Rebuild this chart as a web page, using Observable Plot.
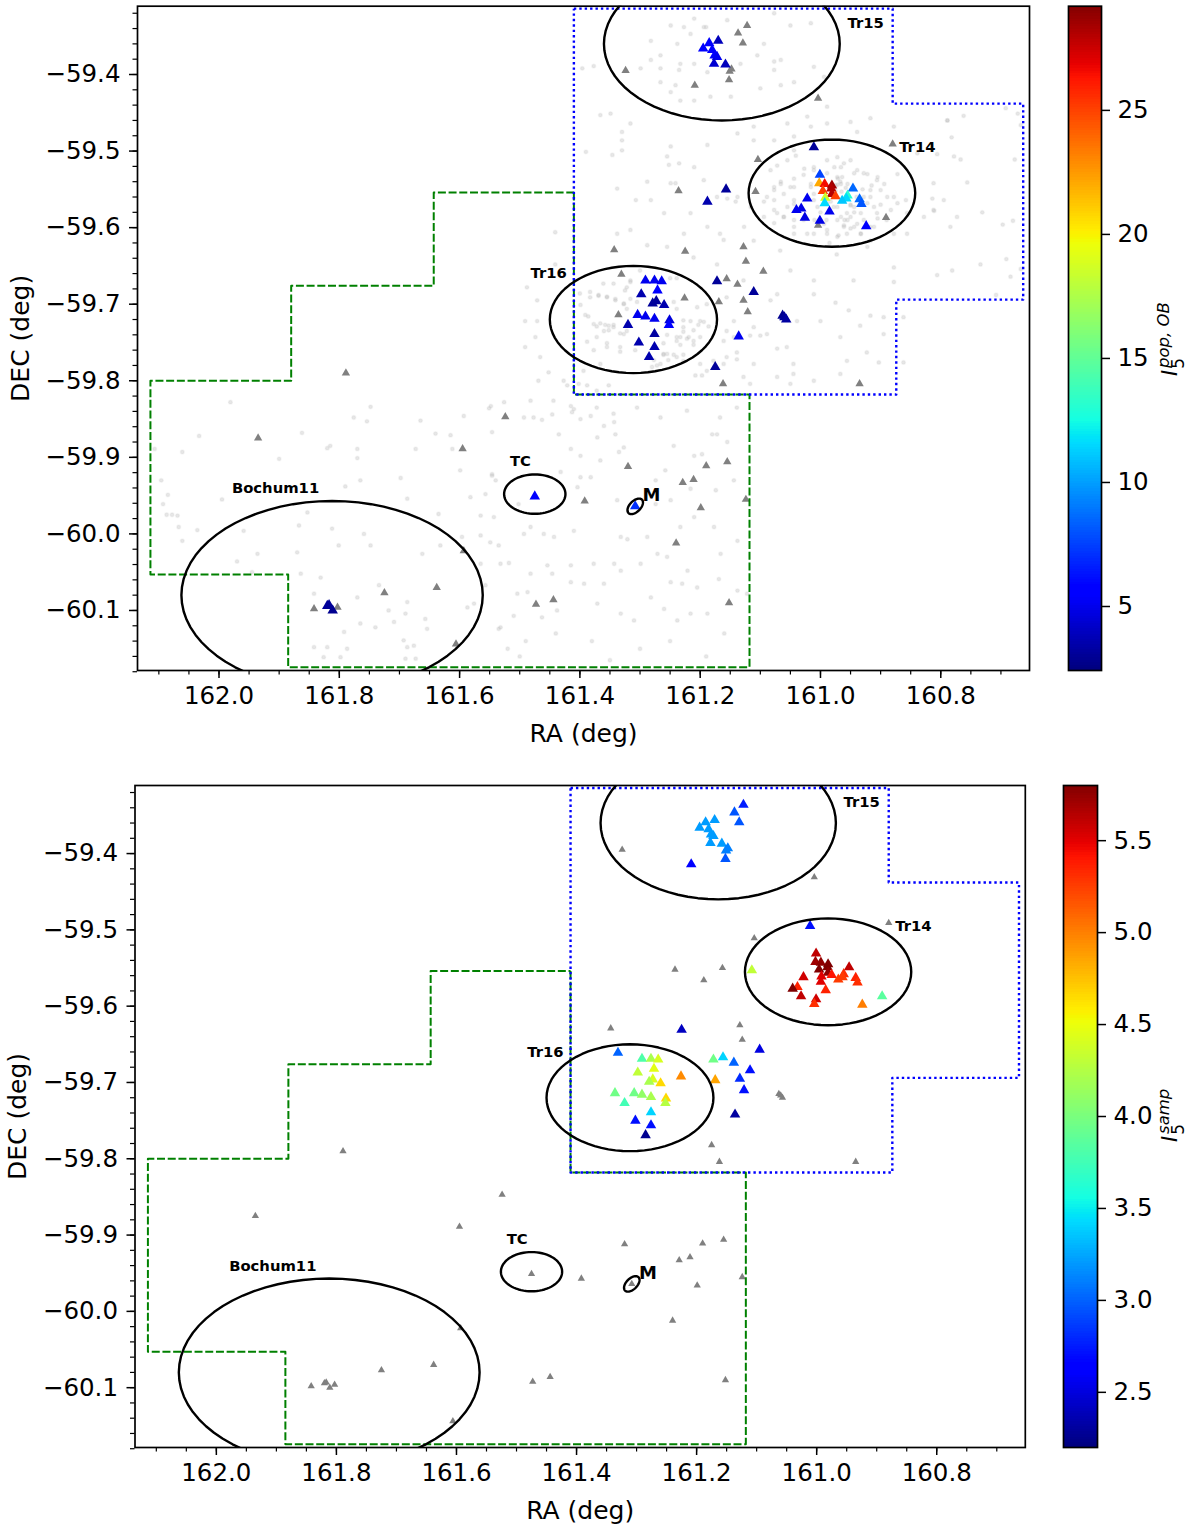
<!DOCTYPE html>
<html><head><meta charset="utf-8">
<script src="https://cdn.jsdelivr.net/npm/d3@7"></script>
<script src="https://cdn.jsdelivr.net/npm/@observablehq/plot@0.6"></script>
<style>html,body{margin:0;padding:0;background:#fff}#page{position:relative;width:1200px;height:1531px;overflow:hidden}#page svg{position:absolute;background:none}</style>
</head><body><div id="page"></div>
<script>
// ---- star catalogue: RA, DEC, I5 pop OB, I5 samp (null = shown grey)
const starRa=[161.122,161.137,161.129,161.170,161.185,161.195,161.180,161.176,161.172,161.177,161.158,161.148,161.151,161.152,161.209,161.324,161.004,
161.011,161.104,161.108,161.001,161.002,160.993,160.981,160.996,160.982,160.981,160.975,160.992,160.993,160.946,160.955,160.957,160.964,160.935,160.932,161.022,161.032,161.040,161.026,160.985,161.001,161.004,160.924,160.891,160.880,
161.157,161.188,161.236,161.343,161.225,161.128,161.124,161.095,161.331,161.291,161.276,161.264,161.172,161.156,161.138,161.271,161.298,161.111,161.273,161.279,161.260,161.226,161.169,161.128,161.121,161.336,161.304,161.291,161.276,161.251,161.252,161.320,161.276,161.302,161.276,161.285,161.136,161.175,161.162,160.935,161.063,161.060,161.057,
161.935,161.595,161.524,161.789,161.842,161.803,161.817,161.811,161.820,161.725,161.638,161.606,161.593,161.320,161.190,161.155,161.229,161.211,161.392,161.199,161.124,161.240,161.473,161.444,161.152,161.475,161.308];
const starDec=[-59.336,-59.346,-59.359,-59.356,-59.359,-59.366,-59.368,-59.375,-59.377,-59.386,-59.387,-59.393,-59.396,-59.407,-59.414,-59.395,-59.431,
-59.495,-59.511,-59.553,-59.531,-59.542,-59.543,-59.545,-59.552,-59.549,-59.556,-59.559,-59.561,-59.568,-59.549,-59.558,-59.562,-59.565,-59.563,-59.569,-59.562,-59.575,-59.577,-59.587,-59.579,-59.591,-59.597,-59.598,-59.587,-59.491,
-59.550,-59.566,-59.552,-59.629,-59.631,-59.625,-59.644,-59.657,-59.661,-59.669,-59.669,-59.670,-59.670,-59.667,-59.674,-59.682,-59.687,-59.684,-59.696,-59.699,-59.701,-59.692,-59.697,-59.695,-59.710,-59.714,-59.714,-59.716,-59.719,-59.721,-59.727,-59.727,-59.739,-59.750,-59.756,-59.769,-59.742,-59.782,-59.804,-59.804,-59.715,-59.717,-59.720,
-59.875,-59.889,-59.847,-59.790,-60.098,-60.096,-60.093,-60.100,-60.094,-60.077,-60.070,-60.144,-60.022,-59.912,-59.911,-59.906,-59.933,-59.929,-59.957,-59.966,-59.955,-60.012,-60.092,-60.086,-60.090,-59.951,-59.964];
const starPop=[null,null,null,3.8,5.5,5.5,5.5,5.3,5,4.3,3.8,null,null,null,null,null,null,
3,null,null,7.5,22,26.5,28.5,25,28,28,25,18.5,11.5,8.5,13,11.5,11,8.5,8,5,4.8,5,4.7,5,4.8,null,5.5,null,null,
3,3.5,null,null,null,null,null,null,null,5,5,5,3,null,null,5.5,3.5,3,3,3,3.5,null,null,null,null,null,5,5,5,4.5,5.5,3.5,3.2,3.5,3.5,3.5,5,3,null,null,2.8,3,3.2,
null,null,null,null,null,null,3,2.8,3,null,null,null,null,null,null,null,null,null,null,null,null,null,null,null,null,5.5,7];
const starSamp=[2.75,2.95,2.95,3.2,3.2,3.2,3.2,3.2,3.2,3.2,3.2,3.1,3.1,2.95,2.65,null,null,
2.7,null,4.3,5.6,5.7,5.75,5.8,5.8,5.8,5.75,5.4,5.5,5.5,5.6,5.3,5.25,5.25,5.35,5.3,5.55,5.35,5.8,5.6,5.35,5.55,5.3,5.0,3.85,null,
null,null,null,null,2.4,null,null,2.5,3.0,3.8,4.2,4.4,3.95,3.4,3.0,4.45,4.3,2.7,4.4,4.2,4.65,4.95,4.85,2.8,2.7,3.95,3.95,4.1,4.2,4.65,4.25,3.75,3.4,2.7,2.7,2.25,2.3,null,null,null,null,null,null,
null,null,null,null,null,null,null,null,null,null,null,null,null,null,null,null,null,null,null,null,null,null,null,null,null,null,null];

// ---- faint background sources, read region by region
const faintCentral=[[161.548,-59.833],[161.526,-59.828],[161.493,-59.848],[161.463,-59.851],[161.446,-59.844],[161.415,-59.833],[161.413,-59.841],[161.399,-59.850],[161.382,-59.846],[161.343,-59.854],[161.360,-59.859],[161.341,-59.870],[161.371,-59.874],[161.435,-59.870],[161.415,-59.889],[161.399,-59.898],[161.335,-59.893],[161.327,-59.887],[161.366,-59.904],[161.258,-59.917],[161.274,-59.930],[161.244,-59.885],[161.210,-59.898],[161.197,-59.896],[161.180,-59.870],[161.172,-59.870],[161.155,-59.880],[161.144,-59.930],[161.174,-59.943],[161.216,-59.941],[161.274,-59.961],[161.249,-59.956],[161.338,-59.956],[161.399,-59.926],[161.404,-59.939],[161.382,-59.926],[161.432,-59.919],[161.546,-59.924],[161.540,-59.930],[161.557,-59.948],[161.543,-59.978],[161.493,-60.0],[161.482,-59.991],[161.460,-60.0],[161.443,-60.004],[161.410,-59.996],[161.332,-60.004],[161.321,-60.007],[161.288,-60.004],[161.271,-60.026],[161.255,-60.030],[161.221,-60.048],[161.166,-60.026],[161.138,-60.009],[161.177,-59.991],[161.210,-59.978],[161.233,-59.991],[161.343,-60.039],[161.377,-60.039],[161.415,-60.041],[161.454,-60.041],[161.482,-60.052],[161.518,-60.038],[161.532,-60.039],[161.504,-60.078],[161.487,-60.076],[161.446,-60.052],[161.415,-60.063],[161.393,-60.065],[161.360,-60.065],[161.332,-60.048],[161.299,-60.039],[161.282,-60.083],[161.249,-60.063],[161.230,-60.065],[161.205,-60.070],[161.169,-60.059],[161.138,-60.074],[161.122,-60.078],[161.216,-60.104],[161.260,-60.098],[161.310,-60.113],[161.371,-60.091],[161.438,-60.100],[161.463,-60.109],[161.532,-60.122],[161.510,-60.107],[161.332,-60.104],[161.238,-60.113],[161.188,-60.104],[161.52,-60.15],[161.50,-60.16],[161.49,-60.14],[161.44,-60.13],[161.38,-60.14],[161.30,-60.15],[161.25,-60.14],[161.19,-60.16],[161.16,-60.13],[161.35,-60.165]];
const faintWest=[[162.033,-59.872],[162.061,-59.893],[162.096,-59.930],[162.085,-59.949],[162.069,-59.976],[162.078,-59.975],[162.087,-59.975],[162.067,-59.991],[162.036,-59.995],[162.061,-60.009],[161.995,-59.955],[162.093,-59.961],[162.107,-59.889],[161.981,-59.828],[161.862,-59.868],[161.815,-59.885],[161.820,-59.888],[161.900,-59.902],[161.770,-59.889],[161.770,-59.901],[161.748,-59.834],[161.754,-59.853],[161.776,-59.848],[161.665,-59.852],[161.640,-59.869],[161.615,-59.871],[161.593,-59.846],[161.551,-59.836],[161.546,-59.867],[161.612,-59.889],[161.673,-59.889],[161.698,-59.927],[161.765,-59.930],[161.790,-59.938],[161.687,-59.954],[161.635,-59.974],[161.565,-59.976],[161.599,-59.917],[161.582,-59.952],[161.546,-59.922],[161.502,-59.961],[161.565,-60.002],[161.549,-60.011],[161.535,-60.015],[161.596,-60.004],[161.632,-60.015],[161.662,-60.026],[161.748,-60.015],[161.801,-60.015],[161.759,-60.0],[161.812,-59.993],[161.853,-59.972],[161.936,-60.026],[161.870,-60.024],[161.970,-60.036],[161.867,-59.989],[161.959,-59.996],[161.842,-60.078],[161.770,-60.083],[161.734,-60.067],[161.687,-60.089],[161.718,-60.100],[161.690,-60.104],[161.709,-60.115],[161.765,-60.117],[161.792,-60.128],[161.740,-60.122],[161.657,-60.111],[161.654,-60.124],[161.587,-60.096],[161.576,-60.091],[161.535,-60.124],[161.565,-60.039],[161.557,-60.067],[161.831,-60.057],[161.864,-60.052],[161.945,-60.050],[161.687,-60.148],[161.676,-60.146],[161.693,-60.139],[161.673,-60.163],[161.690,-60.163],[161.842,-60.148],[161.820,-60.148],[161.787,-60.150],[161.798,-60.161],[161.826,-60.161]];
const faintNorth=[[161.396,-59.392],[161.377,-59.389],[161.366,-59.453],[161.349,-59.451],[161.330,-59.475],[161.330,-59.486],[161.316,-59.464],[161.390,-59.501],[161.346,-59.505],[161.330,-59.499],[161.249,-59.494],[161.255,-59.507],[161.252,-59.518],[161.235,-59.516],[161.241,-59.542],[161.249,-59.542],[161.288,-59.540],[161.338,-59.549],[161.307,-59.564],[161.282,-59.564],[161.260,-59.581],[161.216,-59.581],[161.188,-59.492],[161.210,-59.521],[161.194,-59.538],[161.172,-59.560],[161.155,-59.562],[161.138,-59.560],[161.141,-59.566],[161.116,-59.573],[161.089,-59.560],[161.077,-59.547],[161.338,-59.608],[161.316,-59.603],[161.288,-59.623],[161.255,-59.625],[161.227,-59.608],[161.188,-59.599],[161.161,-59.616],[161.127,-59.599],[161.094,-59.586],[161.077,-59.594],[161.044,-59.608],[160.856,-59.581],[160.828,-59.586],[160.812,-59.577],[160.878,-59.608],[160.922,-59.625],[160.856,-59.608],[160.789,-59.460],[160.878,-59.468],[160.917,-59.457],[160.950,-59.462],[160.989,-59.442],[161.022,-59.455],[161.055,-59.464],[161.111,-59.468],[161.138,-59.477],[161.077,-59.486],[161.111,-59.486],[161.016,-59.468],[161.044,-59.481],[160.989,-59.464],[160.939,-59.475],[160.839,-59.503],[160.812,-59.542],[160.778,-59.507],[160.795,-59.564],[160.773,-59.586]];
const faintTr15=[[161.282,-59.356],[161.249,-59.336],[161.227,-59.338],[161.210,-59.327],[161.194,-59.338],[161.216,-59.347],[161.238,-59.360],[161.266,-59.375],[161.282,-59.381],[161.299,-59.392],[161.266,-59.392],[161.235,-59.394],[161.241,-59.414],[161.249,-59.423],[161.266,-59.410],[161.233,-59.434],[161.210,-59.434],[161.183,-59.429],[161.149,-59.429],[161.100,-59.418],[161.077,-59.394],[161.077,-59.383],[161.044,-59.410],[161.066,-59.414],[161.094,-59.360],[161.066,-59.381],[161.133,-59.386],[161.105,-59.375],[161.155,-59.329],[161.077,-59.320],[161.050,-59.336],[161.016,-59.333],[161.011,-59.390],[160.994,-59.403],[161.188,-59.397],[161.210,-59.386],[161.233,-59.386],[161.190,-59.338]];
const faintTr14=[[161.066,-59.540],[161.044,-59.547],[161.077,-59.564],[161.055,-59.573],[161.028,-59.531],[161.016,-59.547],[161.011,-59.521],[160.989,-59.512],[160.961,-59.516],[160.944,-59.529],[160.928,-59.529],[160.906,-59.538],[160.889,-59.560],[160.872,-59.568],[160.917,-59.560],[160.922,-59.568],[160.944,-59.573],[160.956,-59.581],[160.972,-59.590],[160.961,-59.599],[160.956,-59.608],[160.989,-59.603],[161.011,-59.608],[161.044,-59.590],[161.061,-59.586],[161.072,-59.581],[160.944,-59.599],[160.933,-59.581],[160.972,-59.534],[160.967,-59.540],[160.972,-59.544],[160.989,-59.529],[161.011,-59.564],[161.044,-59.564],[161.028,-59.590],[160.906,-59.581],[160.917,-59.599],[160.933,-59.608],[160.978,-59.573],[160.950,-59.586],[160.989,-59.568],[160.975,-59.552],[160.965,-59.553],[160.958,-59.548],[160.95,-59.57],[160.94,-59.56],[160.96,-59.59],[160.97,-59.61],[160.985,-59.62],[160.99,-59.59],[161.0,-59.58],[161.01,-59.59],[160.93,-59.55],[160.915,-59.545],[160.90,-59.57],[160.89,-59.59],
[161.044,-59.499],[161.055,-59.512],[161.041,-59.506],[161.072,-59.519],[161.083,-59.525],[161.066,-59.543],[161.044,-59.536],[161.050,-59.547],[161.061,-59.556],[161.077,-59.551],[161.094,-59.566],[161.077,-59.577],[161.061,-59.586],[161.044,-59.569],[161.011,-59.525],[161.027,-59.523],[160.972,-59.508],[160.977,-59.521],[160.950,-59.512],[160.939,-59.525],[160.922,-59.530],[160.905,-59.534],[160.894,-59.543],[160.872,-59.530],[160.878,-59.560],[160.858,-59.564],[160.900,-59.551],[160.917,-59.551],[160.928,-59.560],[160.911,-59.573],[160.883,-59.577],[160.905,-59.588],[160.944,-59.580],[160.955,-59.590],[160.966,-59.586],[160.961,-59.597],[160.950,-59.601],[160.972,-59.612],[160.989,-59.608],[161.022,-59.608],[161.044,-59.599],[160.939,-59.595],[160.928,-59.590],[160.911,-59.599],[160.933,-59.608],[160.966,-59.543],[160.971,-59.536],[160.975,-59.545],[160.964,-59.534],[160.955,-59.543],[160.966,-59.521],[161.005,-59.573],[160.983,-59.566],[160.972,-59.573],[160.950,-59.571],[160.994,-59.595],[161.011,-59.556],[161.016,-59.543]];
const faintTr16=[[161.488,-59.678],[161.471,-59.695],[161.441,-59.606],[161.441,-59.648],[161.471,-59.722],[161.491,-59.722],[161.474,-59.743],[161.491,-59.756],[161.466,-59.769],[161.469,-59.800],[161.452,-59.789],[161.427,-59.800],[161.421,-59.806],[161.402,-59.804],[161.388,-59.806],[161.366,-59.778],[161.394,-59.787],[161.372,-59.813],[161.352,-59.806],[161.383,-59.691],[161.369,-59.689],[161.355,-59.691],[161.341,-59.695],[161.327,-59.700],[161.316,-59.671],[161.322,-59.678],[161.377,-59.726],[161.360,-59.735],[161.352,-59.728],[161.344,-59.730],[161.372,-59.743],[161.355,-59.756],[161.333,-59.756],[161.327,-59.739],[161.322,-59.735],[161.261,-59.765],[161.239,-59.748],[161.228,-59.730],[161.211,-59.748],[161.216,-59.722],[161.200,-59.722],[161.205,-59.704],[161.189,-59.700],[161.255,-59.765],[161.239,-59.769],[161.266,-59.778],[161.280,-59.782],[161.228,-59.774],[161.233,-59.743],[161.222,-59.745],
[161.316,-59.669],[161.300,-59.656],[161.344,-59.673],[161.361,-59.673],[161.325,-59.682],[161.355,-59.690],[161.369,-59.688],[161.383,-59.684],[161.400,-59.686],[161.341,-59.693],[161.316,-59.693],[161.391,-59.714],[161.386,-59.716],[161.372,-59.729],[161.358,-59.727],[161.344,-59.727],[161.333,-59.738],[161.352,-59.734],[161.399,-59.701],[161.250,-59.666],[161.239,-59.666],[161.244,-59.697],[161.239,-59.706],[161.228,-59.721],[161.211,-59.734],[161.203,-59.727],[161.194,-59.723],[161.228,-59.736],[161.239,-59.743],[161.255,-59.740],[161.261,-59.751],[161.233,-59.753],[161.219,-59.743],[161.200,-59.743],[161.186,-59.729],[161.244,-59.766],[161.261,-59.766],[161.277,-59.773],[161.272,-59.780],[161.253,-59.773],[161.308,-59.760],[161.333,-59.762],[161.355,-59.751],[161.366,-59.725],[161.388,-59.749],[161.377,-59.760],[161.228,-59.766],[161.211,-59.753],[161.322,-59.706],[161.327,-59.699],[161.305,-59.697]];
const faintEast=[[161.156,-59.691],[161.144,-59.722],[161.156,-59.735],[161.161,-59.748],[161.144,-59.743],[161.117,-59.741],[161.100,-59.741],[161.089,-59.739],[161.111,-59.730],[161.139,-59.763],[161.139,-59.772],[161.156,-59.769],[161.161,-59.778],[161.200,-59.778],[161.208,-59.793],[161.197,-59.793],[161.189,-59.787],[161.178,-59.774],[161.128,-59.795],[161.117,-59.804],[161.072,-59.758],[161.045,-59.778],[161.045,-59.791],[161.056,-59.756],[161.039,-59.722],[161.000,-59.722],[160.975,-59.698],[160.953,-59.708],[160.967,-59.743],[160.934,-59.728],[160.917,-59.715],[160.895,-59.717],[160.895,-59.739],[160.903,-59.776],[160.956,-59.774],[160.923,-59.763],[160.862,-59.717],[160.862,-59.776],[160.967,-59.791],[161.011,-59.800],[161.050,-59.804],[161.072,-59.795],[161.111,-59.778],[161.211,-59.639],[161.167,-59.608],[161.111,-59.617],[161.067,-59.630],[161.050,-59.656],[161.011,-59.669],[160.973,-59.635],[160.917,-59.617],[160.878,-59.652],[160.945,-59.669],[160.878,-59.671],[161.011,-59.687],[161.083,-59.695],[161.072,-59.687],[161.128,-59.669],[161.172,-59.648],[161.444,-59.826],[161.410,-59.837],[161.372,-59.835],[161.344,-59.843],[161.305,-59.835],[161.266,-59.848],[161.222,-59.839],[161.167,-59.848],[161.139,-59.835],[161.482,-59.826],[161.477,-59.848],[160.692,-59.444],[160.672,-59.451],[160.789,-59.460],[160.762,-59.454],[160.667,-59.466],[160.782,-59.482],[160.806,-59.504],[160.767,-59.511],[160.677,-59.511],[160.756,-59.541],[160.814,-59.562],[160.811,-59.578],[160.731,-59.580],[160.784,-59.599],[160.697,-59.596],[160.680,-59.591],[160.734,-59.648],[160.691,-59.641],[160.806,-59.662],[160.781,-59.656],[160.667,-59.654],[160.684,-59.664],[160.708,-59.688]];

// ---- survey outlines
const blueOutline=[[161.410,-59.314],[160.880,-59.314],[160.880,-59.438],[160.663,-59.438],[160.663,-59.694],[160.874,-59.694],[160.874,-59.818],[161.410,-59.818],[161.410,-59.314]];
const greenOutline=[[161.410,-59.554],[161.410,-59.818],[161.118,-59.818],[161.118,-60.174],[161.885,-60.174],[161.885,-60.053],[162.114,-60.053],[162.114,-59.800],[161.880,-59.800],[161.880,-59.676],[161.643,-59.676],[161.643,-59.554],[161.410,-59.554]];

// ---- clusters: centre RA, centre DEC, half-axis RA, half-axis DEC, tilt
const clusterNames=["Tr15","Tr14","Tr16","Bochum11","TC","M"];
const clusterRa=[161.164,160.981,161.311,161.812,161.475,161.308];
const clusterDec=[-59.360,-59.555,-59.720,-60.080,-59.948,-59.964];
const clusterA=[0.196,0.1385,0.139,0.2505,0.051,0.0158];
const clusterB=[0.100,0.070,0.070,0.123,0.0257,0.00715];
const clusterTilt=[0,0,0,0,0,45];
const labelRa=[160.925,160.839,161.452,161.906,161.499,161.281];
const labelDec=[-59.333,-59.495,-59.660,-59.941,-59.905,-59.950];
const labelSize=[14.8,14.8,14.8,14.8,14.8,18];

const xTicks=[162,161.8,161.6,161.4,161.2,161,160.8];
const xMinor=d3.range(0,30).map(i=>+(162.1-i*0.05).toFixed(2)).filter(v=>v>160.66);
const yTicks=[-59.4,-59.5,-59.6,-59.7,-59.8,-59.9,-60,-60.1];
const yMinor=d3.range(0,44).map(i=>+(-59.32-i*0.02).toFixed(2));
const xDomain=[162.1355,160.6525], yDomain=[-60.1784,-59.3108];

const FONT="DejaVu Sans";
const rCh=d3.scaleLinear([0,.35,.66,.89,1],[0,0,1,1,.5]).clamp(true);
const gCh=d3.scaleLinear([0,.125,.375,.64,.91,1],[0,0,1,1,0,0]).clamp(true);
const bCh=d3.scaleLinear([0,.11,.34,.65,1],[.5,1,1,0,0]).clamp(true);
const jet=t=>`rgb(${Math.round(rCh(t)*255)},${Math.round(gCh(t)*255)},${Math.round(bCh(t)*255)})`;

const stars=starRa.map((ra,i)=>({ra,dec:starDec[i],pop:starPop[i],samp:starSamp[i]}));
const faint=[...faintCentral,...faintWest,...faintNorth,...faintTr15,...faintTr14,...faintTr16,...faintEast];
const clusters=clusterNames.map((name,i)=>({name,lra:labelRa[i],ldec:labelDec[i],size:labelSize[i],
  outline:d3.range(0,365,5).map(deg=>{
    const t=deg*Math.PI/180,f=clusterTilt[i]*Math.PI/180,k=0.7856;
    const u=clusterA[i]*Math.cos(t),v=clusterB[i]*Math.sin(t)/k;
    return [clusterRa[i]-(u*Math.cos(f)-v*Math.sin(f)),clusterDec[i]+(u*Math.sin(f)+v*Math.cos(f))*k];
  })}));

const page=document.getElementById("page");
function place(svg,left,top){svg.style.left=left+"px";svg.style.top=top+"px";page.appendChild(svg);return svg;}
const colorDomains={pop:[2.42,29.2],samp:[2.2,5.8]};

function panel({top,left,right,frameTop,frameBottom,key,grayR,showFaint}){
  const mb=84;
  const height=frameBottom-top+mb;
  const svg=Plot.plot({
    width:1200,height,marginLeft:left,marginRight:1200-right,marginTop:frameTop-top,marginBottom:mb,
    style:{fontFamily:FONT,background:"none"},
    x:{domain:xDomain},y:{domain:yDomain},
    color:{type:"identity"},
    marks:[
      showFaint?Plot.dot(faint,{x:d=>d[0],y:d=>d[1],r:1.9,fill:"#b4b4b4",fillOpacity:.32,stroke:"#b4b4b4",strokeOpacity:.12,clip:true}):null,
      Plot.dot(stars.filter(d=>d[key]==null),{x:"ra",y:"dec",symbol:"triangle",r:grayR,fill:"#808080"}),
      Plot.line(greenOutline,{x:d=>d[0],y:d=>d[1],stroke:"#008000",strokeWidth:2,strokeDasharray:"8,2.7",strokeLinecap:"butt",clip:true}),
      Plot.line(blueOutline,{x:d=>d[0],y:d=>d[1],stroke:"#0000ff",strokeWidth:2.4,strokeDasharray:"2.4,3",strokeLinecap:"butt",clip:true}),
      Plot.dot(stars.filter(d=>d[key]!=null),{x:"ra",y:"dec",symbol:"triangle",r:3.9,fill:d=>jet((d[key]-colorDomains[key][0])/(colorDomains[key][1]-colorDomains[key][0]))}),
      ...clusters.map(c=>Plot.line(c.outline,{x:d=>d[0],y:d=>d[1],stroke:"black",strokeWidth:2.4,curve:"linear",clip:true})),
      Plot.text(clusters,{x:"lra",y:"ldec",text:"name",fontSize:"size",fontWeight:"bold",fill:"black"}),
      Plot.frame({stroke:"black",strokeWidth:1.7}),
      Plot.axisX({anchor:"bottom",ticks:xTicks,tickFormat:d3.format(".1f"),tickSize:8,tickPadding:8,strokeWidth:1.5,fontSize:24.5,label:null,fill:"black"}),
      Plot.axisX({anchor:"bottom",ticks:xMinor,tickSize:4.5,strokeWidth:1.2,fill:"none",label:null}),
      Plot.axisY({anchor:"left",ticks:yTicks,tickFormat:d3.format(".1f"),tickSize:8,tickPadding:9,strokeWidth:1.5,fontSize:24.5,label:null,fill:"black"}),
      Plot.axisY({anchor:"left",ticks:yMinor,tickSize:4.5,strokeWidth:1.2,fill:"none",label:null}),
      Plot.text(["RA (deg)"],{frameAnchor:"bottom",dy:63,fontSize:25,fill:"black",textAnchor:"middle",lineAnchor:"middle"}),
      Plot.text(["DEC (deg)"],{frameAnchor:"left",rotate:-90,dx:-117,fontSize:25,fill:"black",textAnchor:"middle",lineAnchor:"middle"})
    ]
  });
  place(svg,0,top);
}

function colorbar({top,left,width,frameTop,frameBottom,key,ticks,fmt,labelTail,labelY,subDx}){
  const [lo,hi]=colorDomains[key];
  const n=256,dv=(hi-lo)/n;
  const values=d3.range(n).map(i=>lo+i*dv);
  const svg=Plot.plot({
    width:160,height:frameBottom-top+10,marginLeft:left,marginRight:160-left-width,marginTop:frameTop-top,marginBottom:10,
    style:{fontFamily:FONT,background:"none"},
    y:{domain:[lo,hi]},
    color:{type:"linear",domain:[lo,hi],interpolate:jet},
    marks:[
      Plot.rect(values,{y1:d=>d,y2:d=>d+dv*1.05,fill:d=>d,shapeRendering:"crispEdges"}),
      Plot.frame({stroke:"black",strokeWidth:1.7}),
      Plot.axisY({anchor:"right",ticks,tickFormat:fmt,tickSize:8,tickPadding:8,strokeWidth:1.5,fontSize:24.5,label:null,fill:"black"})
    ]
  });
  const sel=d3.select(svg);
  const t=sel.append("text").attr("text-anchor","start").attr("transform",`translate(${1177-1040},${labelY-top}) rotate(-90)`).attr("font-family",FONT).attr("fill","black").attr("font-size",21);
  t.append("tspan").attr("font-style","italic").text("I");
  t.append("tspan").attr("font-size",17).attr("dy",7).attr("dx",1).text("5");
  t.append("tspan").attr("font-size",16.5).attr("font-style","italic").attr("dy",-15).attr("dx",subDx).text(labelTail);
  place(svg,1040,top);
}

panel({top:0,left:137,right:1029,frameTop:5.7,frameBottom:670,key:"pop",grayR:3.1,showFaint:true});
colorbar({top:0,left:28,width:33,frameTop:5.7,frameBottom:670,key:"pop",ticks:[5,10,15,20,25],fmt:d3.format("d"),labelTail:"pop, OB",labelY:376,subDx:-10});
panel({top:770,left:134.5,right:1024.8,frameTop:785,frameBottom:1447,key:"samp",grayR:2.7,showFaint:false});
colorbar({top:770,left:23,width:34,frameTop:785,frameBottom:1447,key:"samp",ticks:[2.5,3,3.5,4,4.5,5,5.5],fmt:d3.format(".1f"),labelTail:"samp",labelY:1142,subDx:-10});
</script>
</body></html>
